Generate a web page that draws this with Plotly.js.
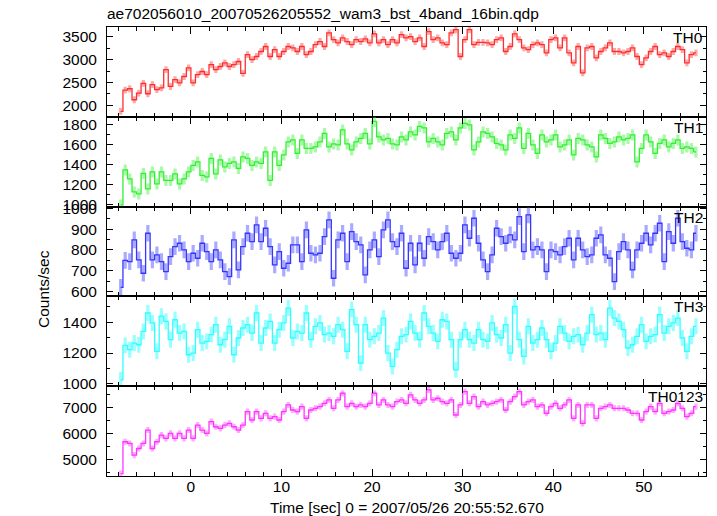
<!DOCTYPE html>
<html><head><meta charset="utf-8">
<script src="https://cdn.plot.ly/plotly-3.0.1.min.js"></script>
<style>html,body{margin:0;padding:0;background:#fff}#chart{width:717px;height:516px}</style>
</head><body><div id="chart"></div>
<script>
// time grid (bin start and width, seconds relative to 2007/05/26 20:55:52.670)
const binStart = -8.0;
const binWidth = 0.5;
const bandNames = ["TH0", "TH1", "TH2", "TH3", "TH0123"];

const th0 = [1860,2330,2360,2118,2265,2480,2250,2450,2340,2380,
2780,2410,2560,2490,2630,2820,2490,2670,2740,2670,
2890,2780,2850,2930,2850,2890,2960,2700,3110,3000,
3070,3180,3290,3070,3220,3070,3180,3290,3260,3180,
3290,3110,3180,3330,3400,3290,3590,3440,3370,3480,
3400,3330,3440,3400,3460,3370,3570,3370,3440,3330,
3440,3370,3550,3480,
3510,3400,3480,3290,3620,3440,3480,3370,3330,3590,
3660,3070,3440,3660,3330,3380,3380,3370,3330,3440,
3480,3180,3290,3570,3440,3260,3220,3330,3370,3330,
3150,3440,3480,3260,3480,3150,2930,3290,2710,3260,
3290,3040,3180,3260,3370,3180,3180,3150,3180,3260,
3070,2890,3040,3180,3290,3110,3150,3070,3180,3290,
3220,2930,3110,3150];

const th1 = [1000,1350,1260,1130,1110,1315,1160,1330,1210,1330,
1245,1245,1310,1210,1260,1330,1395,1430,1295,1280,
1465,1310,1450,1380,1415,1430,1365,1480,1465,1395,
1430,1415,1530,1245,1530,1395,1500,1630,1650,1515,
1650,1565,1565,1580,1630,1715,1580,1610,1600,1750,
1610,1550,1630,1665,1715,1610,1835,1680,1650,1665,
1610,1600,1680,1650,
1730,1700,1785,1770,1630,1665,1630,1600,1715,1730,
1650,1770,1815,1800,1550,1630,1730,1715,1680,1615,
1600,1550,1700,1665,1770,1565,1715,1600,1515,1700,
1630,1650,1700,1580,1600,1650,1500,1665,1650,1600,
1580,1480,1700,1665,1615,1630,1680,1650,1665,1700,
1430,1565,1700,1630,1515,1615,1650,1580,1615,1650,
1565,1580,1565,1530];

const th2 = [620,750,744,848,752,688,880,752,776,744,
696,768,816,832,800,744,784,760,832,792,
744,800,752,696,672,848,704,816,880,840,
920,840,904,816,728,792,712,736,824,824,
744,896,784,776,784,864,944,664,848,880,
744,888,840,824,680,800,848,768,896,944,
840,816,880,712,
832,728,832,760,864,840,800,840,880,784,
760,784,920,856,952,832,752,696,776,904,
864,832,872,848,960,792,968,800,816,800,
696,800,792,776,816,856,752,856,800,768,
776,856,872,776,760,648,792,840,800,704,
800,832,880,824,880,928,744,888,832,952,
840,808,800,880];

const th3 = [1026,1250,1222,1265,1254,1341,1461,1396,1211,1440,
1406,1287,1417,1330,1341,1189,1200,1352,1265,1276,
1320,1385,1254,1287,1374,1189,1298,1363,1385,1330,
1461,1265,1363,1406,1265,1352,1396,1493,1298,1341,
1330,1461,1287,1374,1396,1320,1330,1309,1385,1352,
1211,1483,1385,1135,1385,1287,1309,1330,1428,1200,
1113,1222,1309,1320,
1406,1330,1287,1461,1374,1330,1276,1417,1406,1287,
1091,1287,1352,1287,1265,1352,1287,1276,1396,1320,
1298,1385,1200,1504,1287,1178,1374,1265,1287,1363,
1287,1211,1265,1374,1330,1276,1309,1320,1254,1330,
1450,1320,1330,1287,1493,1428,1406,1352,1233,1254,
1309,1385,1276,1309,1320,1450,1330,1374,1396,1428,
1298,1211,1309,1374];

const th0123 = [4460,5680,5615,5167,5423,5615,6128,5423,5680,5936,
5808,6000,5808,6000,5808,6128,5808,6320,6128,6000,
6450,6256,6192,6320,6385,6256,6128,6320,6833,6513,
6833,6577,6770,6577,6641,6513,6833,7090,6897,6833,
7026,6577,6897,6962,7026,7154,7282,6962,7282,7538,
7026,7154,7026,7090,7026,7154,7538,7090,7282,7090,
7026,7218,7282,7154,
7474,7282,7154,7282,7666,7282,7346,7218,7154,7282,
6705,7090,7602,7154,7410,7026,7218,7090,7154,7218,
7282,6897,7218,7410,7602,7090,7218,7282,7026,7090,
6770,7026,7154,6962,7090,7282,6577,7090,6385,7090,
7090,6577,6962,7026,7090,6962,6962,6962,6897,6770,
6770,6513,6833,7026,6833,7154,6770,6833,6897,7154,
6962,6641,6770,7026];

// 1-sigma error per band (counts/sec)
const errBars = [75, 55, 40, 52, 117];

const series = [th0, th1, th2, th3, th0123];
const times = th0.map((_, i) => binStart + binWidth * (i + 0.5));

const lineColors = ['#ff2e2e', '#30f030', '#3535ff', '#30ffff', '#ff35ff'];
const barColors = ['rgba(255,46,46,0.42)', 'rgba(48,240,48,0.42)', 'rgba(53,53,255,0.42)', 'rgba(48,255,255,0.5)', 'rgba(255,53,255,0.42)'];
const yRanges = [[1742, 3720], [983, 1881], [577, 1008], [984, 1569], [4369, 7808]];
const yDticks = [500, 200, 100, 200, 1000];
const yMinor = [250, 100, 50, 100, 500];

const FONT = '"Liberation Sans", Arial, Helvetica, sans-serif';
const FS = 15.5;

const traces = series.map((vals, k) => ({
  type: 'scatter', mode: 'lines',
  x: times, y: vals,
  xaxis: k === 0 ? 'x' : 'x' + (k + 1),
  yaxis: k === 0 ? 'y' : 'y' + (k + 1),
  line: {shape: 'hvh', color: lineColors[k], width: 1.3},
  error_y: {type: 'constant', value: errBars[k], color: barColors[k], thickness: 3.2, width: 0},
  hoverinfo: 'skip', showlegend: false
}));

const layout = {
  width: 717, height: 516,
  margin: {l: 107, r: 10.5, t: 27, b: 40, pad: 0},
  paper_bgcolor: '#fff', plot_bgcolor: '#fff',
  font: {family: FONT, size: FS, color: '#000'},
  showlegend: false,
  title: {text: 'ae702056010_20070526205552_wam3_bst_4band_16bin.qdp',
          xref: 'container', x: 107 / 717, xanchor: 'left',
          yref: 'container', y: 1 - 14 / 516, yanchor: 'middle',
          font: {family: FONT, size: FS, color: '#000'}},
  annotations: []
};

for (let k = 0; k < 5; k++) {
  const xs = k === 0 ? '' : String(k + 1);
  const ax = {
    domain: [0, 1], anchor: 'y' + xs,
    range: [-9.26, 56.86], dtick: 10, tick0: 0,
    ticks: 'inside', ticklen: 7, tickwidth: 1, tickcolor: '#000',
    minor: {dtick: 2, tick0: 0, ticks: 'inside', ticklen: 4, tickwidth: 1, tickcolor: '#000'},
    showline: true, linecolor: '#000', linewidth: 1, mirror: 'allticks',
    showgrid: false, zeroline: false, showticklabels: k === 4,
    ticklabelstandoff: -4,
    tickfont: {family: FONT, size: FS, color: '#000'}, fixedrange: true
  };
  if (k > 0) ax.matches = 'x';
  layout['xaxis' + xs] = ax;
  layout['yaxis' + xs] = {
    domain: [(4 - k) * 0.2, (5 - k) * 0.2], anchor: 'x' + xs,
    range: yRanges[k], dtick: yDticks[k], tick0: 0,
    ticks: 'inside', ticklen: 6, tickwidth: 1, tickcolor: '#000',
    minor: {dtick: yMinor[k], tick0: 0, ticks: 'inside', ticklen: 3, tickwidth: 1, tickcolor: '#000'},
    showline: true, linecolor: '#000', linewidth: 1, mirror: 'allticks',
    showgrid: false, zeroline: false,
    ticklabelstandoff: 6,
    tickfont: {family: FONT, size: FS, color: '#000'}, fixedrange: true
  };
  layout.annotations.push({
    text: bandNames[k], showarrow: false,
    xref: 'paper', x: 1, xanchor: 'right', xshift: -1,
    yref: 'y' + xs + ' domain', y: 1, yanchor: 'middle', yshift: -10.5,
    font: {family: FONT, size: FS, color: '#000'}
  });
}

layout.annotations.push({
  text: 'Counts/sec', showarrow: false, textangle: -90,
  xref: 'paper', x: (43 - 107) / 599.5, xanchor: 'center',
  yref: 'paper', y: (476 - 289) / 449, yanchor: 'middle',
  font: {family: FONT, size: FS, color: '#000'}
});
layout.annotations.push({
  text: 'Time [sec] 0 = 2007/05/26 20:55:52.670', showarrow: false,
  xref: 'paper', x: 0.5, xanchor: 'center',
  yref: 'paper', y: (476 - 507) / 449, yanchor: 'middle',
  font: {family: FONT, size: FS, color: '#000'}
});

Plotly.newPlot('chart', traces, layout, {displayModeBar: false, staticPlot: true});
</script>
</body></html>
